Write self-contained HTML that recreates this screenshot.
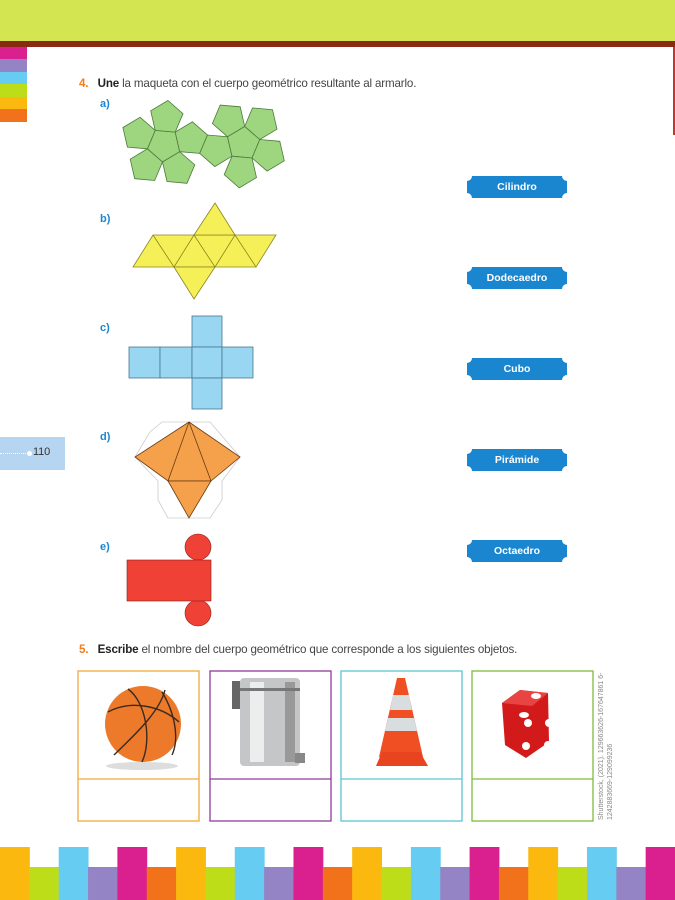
<!DOCTYPE html>
<html><head><meta charset="utf-8">
<style>
*{margin:0;padding:0;box-sizing:border-box}
body{width:675px;height:900px;position:relative;background:#fff;font-family:"Liberation Sans",sans-serif;overflow:hidden;color:#333}
.a{position:absolute}
.t{font-size:11.6px;letter-spacing:-0.15px;white-space:nowrap;color:#444}
.n{color:#f07d1c;font-weight:bold}
.l{font-size:11px;font-weight:bold;color:#1a86cf}
</style></head><body>
<div class="a" style="left:0;top:0;width:675px;height:41px;background:#d3e651"></div>
<div class="a" style="left:0;top:41px;width:675px;height:6px;background:#8b2a12"></div>
<div class="a" style="left:0;top:47px;width:27px;height:12px;background:#da1f8f"></div>
<div class="a" style="left:0;top:59px;width:27px;height:13px;background:#9484c6"></div>
<div class="a" style="left:0;top:72px;width:27px;height:12px;background:#66ccf2"></div>
<div class="a" style="left:0;top:84px;width:27px;height:13px;background:#bedd19"></div>
<div class="a" style="left:0;top:97px;width:27px;height:12px;background:#fbb90f"></div>
<div class="a" style="left:0;top:109px;width:27px;height:13px;background:#f2721c"></div>
<div class="a" style="left:673px;top:47px;width:2px;height:88px;background:#c0392b"></div>

<div class="a" style="left:0;top:437px;width:65px;height:33px;background:#b6d5f0"></div>
<div class="a" style="left:0;top:453px;width:28px;border-top:1px dotted #fff"></div>
<div class="a" style="left:27px;top:451px;width:5px;height:5px;border-radius:50%;background:#fff"></div>
<div class="a t" style="left:33px;top:446px;font-size:11px;color:#333">110</div>

<div class="a t" style="left:79px;top:77px"><span class="n">4.</span>&nbsp;&nbsp;&nbsp;<b style="color:#222">Une</b> la maqueta con el cuerpo geométrico resultante al armarlo.</div>
<div class="a l" style="left:100px;top:98px">a)</div>
<div class="a l" style="left:100px;top:213px">b)</div>
<div class="a l" style="left:100px;top:322px">c)</div>
<div class="a l" style="left:100px;top:431px">d)</div>
<div class="a l" style="left:100px;top:541px">e)</div>

<div class="a t" style="left:79px;top:643px"><span class="n">5.</span>&nbsp;&nbsp;&nbsp;<b style="color:#222">Escribe</b> el nombre del cuerpo geométrico que corresponde a los siguientes objetos.</div>

<svg class="a" style="left:0;top:0" width="675" height="900">
<g id="dodec" fill="#9ed57f" stroke="#4d7a3a" stroke-width="0.8"></g>
<g fill="#f5f057" stroke="#8a8420" stroke-width="0.8">
<polygon points="153,235 276,235 256,267 133,267"/>
<polygon points="215,203 235,235 194,235"/>
<polygon points="174,267 215,267 194,299"/>
<path d="M153,235 L174,267 L194,235 L215,267 L235,235 L256,267" fill="none"/>
</g>
<g fill="#98d6f2" stroke="#4a7890" stroke-width="0.8">
<rect x="192" y="316" width="30" height="31"/>
<rect x="129" y="347" width="31" height="31"/>
<rect x="160" y="347" width="32" height="31"/>
<rect x="192" y="347" width="30" height="31"/>
<rect x="222" y="347" width="31" height="31"/>
<rect x="192" y="378" width="30" height="31"/>
</g>
<polygon points="162,422 210,422 240,457 222,481 222,500 210,518 168,518 158,500 158,481 135,457 150,432" fill="none" stroke="#ccc" stroke-width="0.8"/>
<g fill="#f5a04a" stroke="#6a3a10" stroke-width="0.8">
<polygon points="189,422 240,457 211,481 168,481 135,457"/>
<polygon points="168,481 211,481 189,518"/>
<path d="M189,422 L168,481 M189,422 L211,481" fill="none"/>
</g>
<g fill="#ef4136" stroke="#8a1f18" stroke-width="0.6">
<circle cx="198" cy="547" r="13"/>
<circle cx="198" cy="613" r="13"/>
<rect x="127" y="560" width="84" height="41"/>
</g>
<g id="tags" fill="#1a86cf"></g>
<g font-family="Liberation Sans" font-weight="bold" font-size="10.5" fill="#fff" text-anchor="middle">
<text x="517" y="190">Cilindro</text>
<text x="517" y="281">Dodecaedro</text>
<text x="517" y="372">Cubo</text>
<text x="517" y="463">Pirámide</text>
<text x="517" y="554">Octaedro</text>
</g>
<g fill="none" stroke-width="1.3">
<rect x="78" y="671" width="121" height="150" stroke="#f4a93a"/><line x1="78" y1="779" x2="199" y2="779" stroke="#f4a93a"/>
<rect x="210" y="671" width="121" height="150" stroke="#8e3a9a"/><line x1="210" y1="779" x2="331" y2="779" stroke="#8e3a9a"/>
<rect x="341" y="671" width="121" height="150" stroke="#5cc6cf"/><line x1="341" y1="779" x2="462" y2="779" stroke="#5cc6cf"/>
<rect x="472" y="671" width="121" height="150" stroke="#7cbd3a"/><line x1="472" y1="779" x2="593" y2="779" stroke="#7cbd3a"/>
</g>
<ellipse cx="142" cy="766" rx="36" ry="4" fill="#ddd"/>
<circle cx="143" cy="724" r="38" fill="#ec7a2a"/>
<g fill="none" stroke="#3a2a20" stroke-width="1.4">
<path d="M108,712 C130,700 160,705 179,722"/><path d="M114,755 C140,730 160,710 165,690"/>
<path d="M128,689 C146,702 152,740 142,762"/><path d="M162,692 C176,715 179,740 172,755"/>
</g>
<rect x="232" y="681" width="8" height="28" fill="#666"/>
<rect x="240" y="678" width="60" height="88" rx="4" fill="#c4c6c8"/>
<rect x="250" y="682" width="14" height="80" fill="#eceeee"/>
<rect x="285" y="682" width="10" height="80" fill="#999"/>
<rect x="240" y="688" width="60" height="3" fill="#777"/>
<rect x="295" y="753" width="10" height="10" fill="#888"/>
<polygon points="397,678 405,678 423,757 379,757" fill="#f04e23"/>
<polygon points="393,695 409,695 412,710 390,710" fill="#d8dde0"/>
<polygon points="388,718 414,718 417,731 385,731" fill="#d8dde0"/>
<polygon points="382,752 420,752 428,766 376,766" fill="#e84420"/>
<polygon points="502,703 520,690 548,693 549,742 526,758 505,745" fill="#d21a1a"/>
<polygon points="520,690 548,693 532,706 502,703" fill="#e84444"/>
<g fill="#fff"><ellipse cx="536" cy="696" rx="5" ry="3"/><ellipse cx="524" cy="715" rx="5" ry="3"/>
<circle cx="528" cy="723" r="4"/><circle cx="549" cy="723" r="4"/><circle cx="526" cy="746" r="4"/><circle cx="548" cy="745" r="4"/></g>
<g font-family="Liberation Sans" font-size="7" fill="#888">
<text transform="translate(603,820) rotate(-90)">Shutterstock, (2021). 129663626-167647861 6-</text>
<text transform="translate(612,820) rotate(-90)">1242883669-129099236</text>
</g>
<g id="bot"></g>
</svg>
<script>
var ns="http://www.w3.org/2000/svg";
function poly(g,pts){var p=document.createElementNS(ns,"polygon");p.setAttribute("points",pts);g.appendChild(p);}
var r=13.8,R=r/Math.cos(Math.PI/5),d=Math.PI/180,g=document.getElementById("dodec");
function pent(cx,cy,th){var s="";for(var i=0;i<5;i++){var a=(th+72*i)*d;s+=(cx+R*Math.cos(a)).toFixed(1)+","+(cy+R*Math.sin(a)).toFixed(1)+" ";}poly(g,s);}
function nb(c,ang){return [c[0]+2*r*Math.cos(ang*d),c[1]+2*r*Math.sin(ang*d)];}
var C1=[164,145];pent(C1[0],C1[1],23);
[59,131,203,275].forEach(function(a){var n=nb(C1,a);pent(n[0],n[1],59);});
var P=nb(C1,347);pent(P[0],P[1],59);
var Q=nb(P,23);pent(Q[0],Q[1],23);
var C2=nb(Q,347);pent(C2[0],C2[1],59);
[95,239,311,23].forEach(function(a){var n=nb(C2,a);pent(n[0],n[1],23);});
var tg=document.getElementById("tags");
[176,267,358,449,540].forEach(function(y){var x1=467,x2=567,h=22,c=5;
var p=document.createElementNS(ns,"path");
p.setAttribute("d","M"+(x1+c)+","+y+" L"+(x2-c)+","+y+" A"+c+","+c+" 0 0 0 "+x2+","+(y+c)+" L"+x2+","+(y+h-c)+" A"+c+","+c+" 0 0 0 "+(x2-c)+","+(y+h)+" L"+(x1+c)+","+(y+h)+" A"+c+","+c+" 0 0 0 "+x1+","+(y+h-c)+" L"+x1+","+(y+c)+" A"+c+","+c+" 0 0 0 "+(x1+c)+","+y+" Z");
tg.appendChild(p);});
var cols=["#fbb90f","#bedd19","#66ccf2","#9484c6","#da1f8f","#f2721c"],b=document.getElementById("bot"),w=675/23;
for(var i=0;i<23;i++){var rc=document.createElementNS(ns,"rect");var tall=i%2==0;
rc.setAttribute("x",(i*w).toFixed(2));rc.setAttribute("width",(w+0.5).toFixed(2));
rc.setAttribute("y",tall?847:867);rc.setAttribute("height",tall?53:33);rc.setAttribute("fill",cols[i%6]);b.appendChild(rc);}
</script>
</body></html>
